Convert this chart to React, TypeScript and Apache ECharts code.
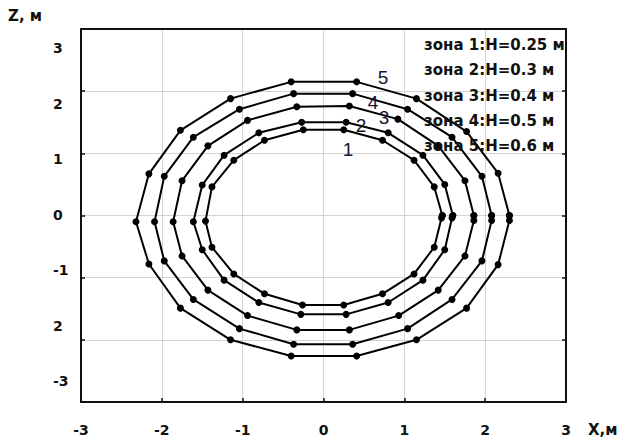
import React, { useEffect, useRef } from "react";
import * as echarts from "echarts";

const xTicks = ["-3", "-2", "-1", "0", "1", "2", "3"];
const zTickValues = [-3, -2, -1, 0, 1, 2, 3];
const zTickLabels = ["-3", "2", "-1", "0", "1", "2", "3"];

const zone1: number[][] = [[1.47,0],[1.37,0.46],[1.12,0.89],[0.73,1.21],[0.25,1.38],[-0.25,1.38],[-0.73,1.21],[-1.11,0.89],[-1.38,0.46],[-1.46,-0.09],[-1.38,-0.51],[-1.11,-0.94],[-0.73,-1.26],[-0.26,-1.44],[0.25,-1.44],[0.73,-1.26],[1.12,-0.94],[1.37,-0.51],[1.46,-0.04],[1.47,0]];
const zone2: number[][] = [[1.60,0],[1.50,0.50],[1.23,0.97],[0.80,1.33],[0.28,1.50],[-0.27,1.50],[-0.80,1.33],[-1.23,0.97],[-1.50,0.49],[-1.61,-0.10],[-1.50,-0.55],[-1.23,-1.04],[-0.80,-1.40],[-0.28,-1.59],[0.28,-1.59],[0.80,-1.40],[1.23,-1.04],[1.50,-0.55],[1.59,-0.04],[1.60,0]];
const zone3: number[][] = [[1.86,0],[1.75,0.56],[1.42,1.12],[0.92,1.55],[0.32,1.76],[-0.33,1.75],[-0.94,1.53],[-1.43,1.12],[-1.75,0.56],[-1.86,-0.10],[-1.75,-0.65],[-1.43,-1.20],[-0.94,-1.61],[-0.33,-1.84],[0.32,-1.84],[0.93,-1.61],[1.42,-1.20],[1.75,-0.65],[1.86,-0.08],[1.86,0]];
const zone4: number[][] = [[2.08,0],[1.96,0.63],[1.59,1.26],[1.04,1.71],[0.36,1.96],[-0.37,1.96],[-1.04,1.71],[-1.61,1.26],[-1.97,0.63],[-2.09,-0.10],[-1.97,-0.73],[-1.61,-1.35],[-1.04,-1.82],[-0.37,-2.07],[0.36,-2.07],[1.04,-1.82],[1.59,-1.35],[1.96,-0.73],[2.08,-0.08],[2.08,0]];
const zone5: number[][] = [[2.30,0],[2.16,0.68],[1.77,1.35],[1.15,1.88],[0.41,2.15],[-0.40,2.15],[-1.15,1.88],[-1.77,1.37],[-2.16,0.67],[-2.32,-0.10],[-2.16,-0.78],[-1.77,-1.49],[-1.15,-2.00],[-0.40,-2.26],[0.41,-2.26],[1.15,-2.00],[1.77,-1.49],[2.16,-0.79],[2.30,-0.08],[2.30,0]];

const zones = [zone1, zone2, zone3, zone4, zone5];
const zoneNames = ["1", "2", "3", "4", "5"];
const legendLines = [
  "зона 1:H=0.25 м",
  "зона 2:H=0.3 м",
  "зона 3:H=0.4 м",
  "зона 4:H=0.5 м",
  "зона 5:H=0.6 м",
];

export default function App() {
  const ref = useRef<HTMLDivElement>(null);
  useEffect(() => {
    if (!ref.current) return;
    const chart = echarts.init(ref.current, undefined, { renderer: "svg" });
    const font = "DejaVu Sans";
    const numberLabelPos: Record<string, number[]> = {
      "1": [348, 149],
      "2": [361, 125],
      "3": [384, 117],
      "4": [373, 102],
      "5": [383, 77],
    };
    const graphics: any[] = [];
    zoneNames.forEach((n) => {
      const p = numberLabelPos[n];
      graphics.push({
        type: "text",
        x: p[0],
        y: p[1],
        silent: true,
        style: {
          text: n,
          fill: "#151533",
          font: "19px 'Liberation Sans'",
          align: "center",
          verticalAlign: "middle",
        },
        z: 10,
      });
    });
    legendLines.forEach((t, i) => {
      graphics.push({
        type: "text",
        x: 424,
        y: 45 + i * 25.3,
        silent: true,
        style: {
          text: t,
          fill: "#111",
          font: "bold 15px 'DejaVu Sans'",
          align: "left",
          verticalAlign: "middle",
        },
        z: 10,
      });
    });
    graphics.push({
      type: "text",
      x: 8,
      y: 16,
      silent: true,
      style: {
        text: "Z, м",
        fill: "#111",
        font: "bold 15px 'DejaVu Sans'",
        align: "left",
        verticalAlign: "middle",
      },
    });

    chart.setOption({
      animation: false,
      backgroundColor: "#fff",
      grid: {
        left: 81,
        right: 60,
        top: 29,
        bottom: 43,
        show: false,
      },
      xAxis: [
        {
          type: "value",
          min: -3,
          max: 3,
          interval: 1,
          position: "bottom",
          name: "X,м",
          nameLocation: "end",
          nameGap: 22,
          nameTextStyle: {
            fontFamily: font,
            fontWeight: "bold",
            fontSize: 15,
            color: "#111",
            align: "left",
            verticalAlign: "top",
            padding: [20, 0, 0, 0],
          },
          axisLine: { show: true, onZero: false, lineStyle: { color: "#111", width: 2 } },
          axisTick: { show: true, inside: true, length: 4, lineStyle: { color: "#111", width: 1.5 } },
          axisLabel: {
            margin: 21,
            fontFamily: font,
            fontWeight: "bold",
            fontSize: 14,
            color: "#111",
            formatter: (v: number) => xTicks[Math.round(v) + 3],
          },
          splitLine: { show: true, lineStyle: { color: "#d4d4d4", width: 1 } },
        },
        {
          type: "value",
          min: -3,
          max: 3,
          interval: 1,
          position: "top",
          axisLine: { show: true, onZero: false, lineStyle: { color: "#111", width: 2 } },
          axisTick: { show: false },
          axisLabel: { show: false },
          splitLine: { show: false },
        },
      ],
      yAxis: [
        {
          type: "value",
          min: -3,
          max: 3,
          interval: 1,
          position: "left",
          axisLine: { show: true, onZero: false, lineStyle: { color: "#111", width: 2 } },
          axisTick: { show: true, inside: true, length: 4, lineStyle: { color: "#111", width: 1.5 } },
          axisLabel: { show: false },
          splitLine: { show: true, lineStyle: { color: "#d4d4d4", width: 1 } },
        },
        {
          type: "value",
          min: -3.37,
          max: 3.35,
          position: "left",
          axisLine: { show: false },
          axisTick: { show: false },
          splitLine: { show: false },
          axisLabel: {
            show: true,
            customValues: zTickValues,
            align: "left",
            margin: 28,
            fontFamily: font,
            fontWeight: "bold",
            fontSize: 14,
            color: "#111",
            formatter: (v: number) => {
              const i = zTickValues.indexOf(Math.round(v));
              return i >= 0 ? zTickLabels[i] : "";
            },
          },
        },
        {
          type: "value",
          min: -3,
          max: 3,
          interval: 1,
          position: "right",
          axisLine: { show: true, onZero: false, lineStyle: { color: "#111", width: 2 } },
          axisTick: { show: true, inside: true, length: 4, lineStyle: { color: "#111", width: 1.5 } },
          axisLabel: { show: false },
          splitLine: { show: false },
        },
      ],
      series: zones.map((d, i) => ({
        name: "зона " + zoneNames[i],
        type: "line",
        xAxisIndex: 0,
        yAxisIndex: 0,
        data: d,
        symbol: "circle",
        symbolSize: 7,
        showAllSymbol: true,
        lineStyle: { color: "#000", width: 2 },
        itemStyle: { color: "#000" },
        emphasis: { disabled: true },
        z: 3,
      })),
      graphic: graphics,
    });
    return () => chart.dispose();
  }, []);
  return (
    <div
      ref={ref}
      style={{ position: "fixed", left: 0, top: 0, width: 626, height: 445 }}
    />
  );
}
